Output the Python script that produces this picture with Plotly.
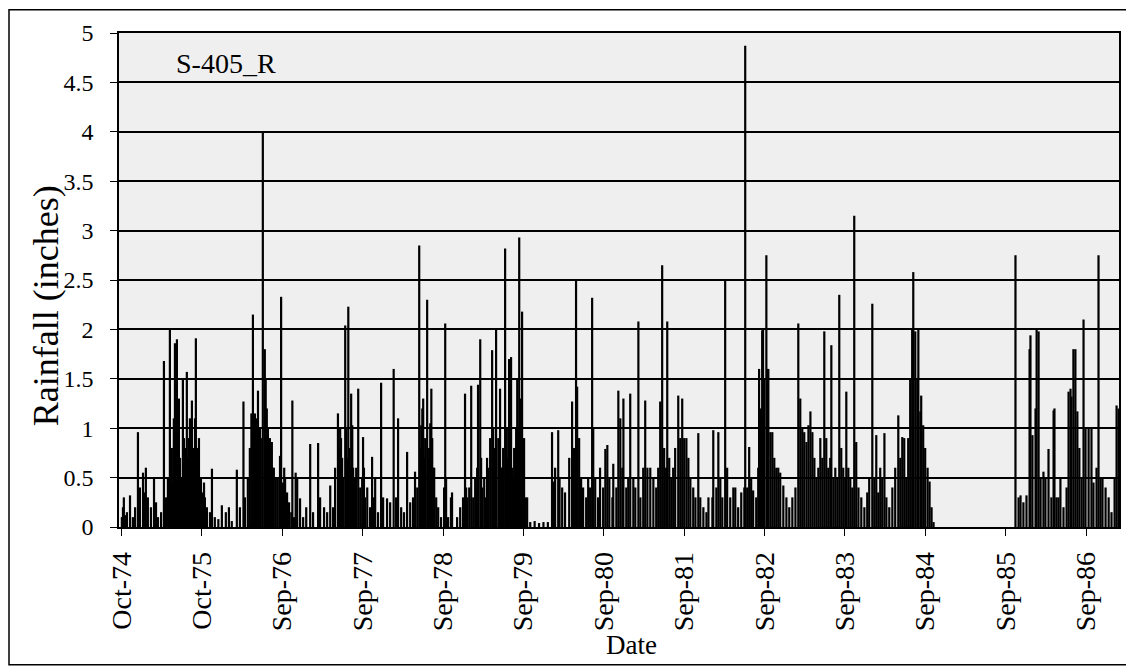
import pandas as pd
import plotly.graph_objects as go

# daily rainfall at S-405_R
# each water year: days after Oct 1 and rainfall (inches)
wy1975_day = [2, 7, 11, 18, 25, 39, 52, 62, 75, 84, 98, 106, 111, 120, 134, 148, 157, 166, 180,
              193, 202, 211, 220, 224, 229, 234, 238, 243, 248, 252, 256, 261, 266, 270, 275, 279,
              284, 288, 293, 297, 301, 306, 311, 316, 320, 325, 330, 334, 338, 343, 347, 352, 356, 361]
wy1975_in = [0.10, 0.20, 0.30, 0.12, 0.15, 0.32, 0.10, 0.20, 0.96, 0.40, 0.55, 0.35, 0.60, 0.30, 0.20,
             0.50, 0.25, 0.10, 0.15, 1.68, 0.30, 0.50, 2.00, 0.60, 0.80, 0.45, 1.10, 1.86, 0.70, 1.90,
             0.90, 1.30, 0.70, 0.50, 0.50, 1.49, 0.90, 0.60, 0.80, 1.57, 0.70, 0.90, 1.10, 0.60, 1.28,
             0.80, 0.60, 1.10, 1.91, 0.80, 0.60, 0.90, 0.40, 0.50]

wy1976_day = [5, 10, 14, 23, 37, 46, 59, 75, 91, 109, 123, 136, 159, 173, 189, 196, 209, 218, 225,
              232, 237, 241, 246, 250, 255, 259, 264, 268, 277, 286, 290, 295, 300, 305, 309, 314,
              318, 323, 327, 336, 345, 355, 360]
wy1976_in = [0.35, 0.45, 0.30, 0.20, 0.15, 0.59, 0.10, 0.08, 0.22, 0.15, 0.20, 0.06, 0.58, 0.20, 1.27,
             0.30, 0.50, 0.80, 1.15, 2.15, 0.90, 1.15, 1.10, 0.80, 1.38, 0.90, 1.00, 0.90, 4.00, 1.80,
             1.50, 1.20, 1.00, 0.80, 0.90, 0.70, 0.86, 0.60, 0.60, 0.50, 0.50, 0.72, 2.33]

wy1977_day = [3, 8, 12, 21, 30, 40, 45, 53, 60, 67, 80, 94, 108, 126, 139, 162, 171, 189, 203, 217,
              230, 239, 252, 257, 262, 266, 271, 276, 285, 290, 294, 299, 303, 308, 312, 317, 321,
              326, 330, 335, 344, 353, 362]
wy1977_in = [0.45, 0.60, 0.50, 0.35, 0.25, 0.15, 1.28, 0.10, 0.55, 0.49, 0.29, 0.10, 0.20, 0.84, 0.15,
             0.85, 0.30, 0.20, 0.15, 0.42, 0.20, 0.60, 1.15, 0.80, 1.00, 0.90, 0.70, 0.50, 2.04, 1.00,
             0.70, 2.23, 0.80, 0.60, 1.35, 1.03, 0.60, 0.50, 0.50, 0.60, 1.40, 0.40, 0.50]

wy1978_day = [1, 5, 10, 20, 33, 42, 51, 56, 69, 83, 92, 110, 124, 140, 151, 160, 174, 187, 201, 215,
              228, 237, 247, 256, 260, 265, 270, 274, 279, 283, 292, 297, 301, 306, 311, 315, 320,
              324, 333, 342, 355]
wy1978_in = [0.91, 0.60, 0.30, 0.40, 0.20, 0.71, 0.30, 0.50, 0.15, 1.46, 0.30, 0.29, 0.25, 1.60, 0.30,
             1.10, 0.20, 0.15, 0.76, 0.25, 0.30, 0.56, 0.40, 2.85, 0.80, 1.03, 1.20, 1.30, 0.70, 0.90,
             2.30, 0.70, 0.80, 1.05, 1.40, 0.90, 0.60, 0.60, 0.30, 0.20, 0.10]

wy1979_day = [4, 9, 13, 22, 35, 40, 63, 77, 90, 99, 104, 109, 118, 127, 136, 145, 149, 154, 158, 168,
              172, 177, 186, 190, 199, 204, 213, 222, 227, 231, 236, 240, 250, 258, 263, 267, 272,
              281, 286, 290, 295, 299, 304, 308, 313, 317, 322, 326, 331, 336, 340, 345, 349, 354,
              358, 363]
wy1979_in = [0.40, 2.06, 0.50, 0.10, 0.30, 0.35, 0.10, 0.20, 0.30, 1.35, 0.40, 0.30, 0.40, 1.43, 0.30,
             0.50, 0.40, 0.60, 1.44, 1.90, 0.70, 0.40, 0.50, 0.30, 0.70, 0.60, 0.90, 1.79, 1.00, 0.80,
             0.60, 2.00, 0.90, 1.40, 0.60, 0.60, 0.80, 2.82, 1.00, 0.70, 1.00, 1.70, 0.90, 1.72, 0.60,
             0.50, 0.80, 0.80, 1.00, 1.50, 1.00, 2.93, 1.30, 1.20, 2.18, 0.60]

wy1980_day = [2, 8, 16, 30, 50, 70, 90, 110, 129, 136, 143, 157, 163, 175, 188, 207, 220, 229, 238,
              243, 252, 261, 270, 284, 293, 302, 311, 316, 325, 338, 347, 361]
wy1980_in = [0.90, 0.30, 0.30, 0.05, 0.06, 0.04, 0.05, 0.05, 0.96, 0.46, 0.60, 0.98, 0.50, 0.40, 0.35,
             0.70, 1.27, 0.80, 2.50, 1.42, 0.90, 0.50, 0.40, 0.30, 0.50, 0.40, 2.32, 1.00, 0.50, 0.30,
             0.60, 0.40]

wy1981_day = [5, 14, 23, 37, 41, 55, 64, 73, 82, 87, 100, 109, 118, 132, 141, 155, 164, 177, 186, 196,
              209, 223, 236, 245, 254, 263, 272, 281, 286, 295, 304, 313, 322, 336, 345, 354, 363]
wy1981_in = [0.79, 0.83, 0.50, 0.30, 0.64, 0.40, 1.38, 1.10, 0.60, 1.30, 0.40, 0.50, 1.35, 0.50, 0.40,
             2.08, 0.30, 0.60, 1.28, 0.60, 0.60, 0.50, 0.40, 0.60, 1.27, 2.65, 0.80, 0.60, 2.08, 0.70,
             0.50, 0.60, 0.80, 1.33, 0.90, 1.30, 0.90]

wy1982_day = [8, 17, 26, 39, 49, 62, 71, 85, 99, 108, 126, 130, 144, 153, 162, 171, 184, 193, 207, 221,
              230, 243, 257, 271, 275, 284, 293, 302, 311, 325, 334, 338, 347, 352, 356, 361]
wy1982_in = [0.90, 0.70, 0.50, 0.40, 0.30, 0.95, 0.30, 0.20, 0.15, 0.30, 0.30, 0.98, 0.40, 0.96, 0.50,
             0.30, 2.50, 0.60, 0.30, 0.40, 0.40, 0.20, 0.35, 0.40, 4.87, 0.40, 0.81, 0.50, 0.37, 0.30,
             0.60, 1.60, 1.20, 1.99, 2.00, 1.50]

wy1983_day = [6, 10, 15, 24, 33, 42, 51, 60, 69, 83, 97, 110, 124, 138, 151, 160, 169, 178, 188, 197,
              206, 215, 224, 233, 242, 251, 260, 269, 278, 287, 296, 301, 310, 319, 328, 337, 346,
              355, 364]
wy1983_in = [2.75, 1.60, 1.60, 0.96, 0.96, 0.70, 0.60, 0.60, 0.55, 0.42, 0.30, 0.20, 0.30, 0.40, 2.06,
             1.30, 1.00, 0.96, 0.86, 1.03, 1.17, 0.96, 0.70, 0.50, 0.60, 0.90, 0.70, 1.98, 0.90, 0.60,
             0.70, 1.84, 0.50, 0.60, 0.50, 2.35, 0.80, 0.60, 0.50]

wy1984_day = [4, 13, 22, 31, 40, 49, 59, 72, 86, 99, 108, 122, 131, 140, 149, 158, 167, 177, 186, 199,
              213, 226, 240, 249, 258, 267, 276, 285, 294, 303, 308, 317, 326, 331, 340, 344, 353, 362]
wy1984_in = [1.37, 0.60, 0.50, 0.40, 3.15, 0.86, 0.40, 0.30, 0.20, 0.35, 0.50, 2.26, 0.50, 0.93, 0.35,
             0.60, 0.50, 0.95, 0.30, 0.20, 0.40, 0.60, 1.13, 0.70, 0.91, 0.90, 0.50, 0.90, 1.50, 2.00,
             2.58, 1.98, 1.50, 2.00, 1.17, 1.33, 1.03, 0.80]

wy1985_day = [7, 16, 25, 34]
wy1985_in = [0.60, 0.46, 0.20, 0.05]

wy1986_day = [41, 55, 64, 77, 91, 105, 109, 118, 132, 137, 146, 155, 168, 177, 191, 204, 214, 218, 227,
              236, 245, 259, 273, 282, 291, 295, 304, 313, 322, 331, 341, 350, 359]
wy1986_in = [2.75, 0.30, 0.32, 0.25, 0.32, 1.80, 1.94, 0.93, 1.20, 2.00, 1.98, 0.50, 0.56, 0.50, 0.79,
             0.30, 1.18, 1.20, 0.30, 0.30, 0.50, 0.20, 0.40, 1.37, 1.40, 1.32, 1.80, 1.80, 1.17, 0.80,
             0.50, 2.10, 1.00]

wy1987_day = [8, 21, 30, 44, 53, 62, 71, 85, 99, 112, 126, 135, 144]
wy1987_in = [1.00, 1.00, 0.45, 0.60, 2.75, 0.50, 0.50, 0.40, 0.30, 0.15, 0.50, 1.23, 1.20]

# x axis ticks (Excel style, every 365 days)
tick_dates = ["1974-10-01", "1975-10-01", "1976-09-30", "1977-09-30", "1978-09-30", "1979-09-30",
              "1980-09-29", "1981-09-29", "1982-09-29", "1983-09-29", "1984-09-28", "1985-09-28",
              "1986-09-28"]
tick_labels = ["Oct-74", "Oct-75", "Sep-76", "Sep-77", "Sep-78", "Sep-79", "Sep-80", "Sep-81",
               "Sep-82", "Sep-83", "Sep-84", "Sep-85", "Sep-86"]
y_ticks = [0, 0.5, 1, 1.5, 2, 2.5, 3, 3.5, 4, 4.5, 5]
y_labels = ["0", "0.5", "1", "1.5", "2", "2.5", "3", "3.5", "4", "4.5", "5"]

seasons = [
    ("1974-10-01", wy1975_day, wy1975_in),
    ("1975-10-01", wy1976_day, wy1976_in),
    ("1976-10-01", wy1977_day, wy1977_in),
    ("1977-10-01", wy1978_day, wy1978_in),
    ("1978-10-01", wy1979_day, wy1979_in),
    ("1979-10-01", wy1980_day, wy1980_in),
    ("1980-10-01", wy1981_day, wy1981_in),
    ("1981-10-01", wy1982_day, wy1982_in),
    ("1982-10-01", wy1983_day, wy1983_in),
    ("1983-10-01", wy1984_day, wy1984_in),
    ("1984-10-01", wy1985_day, wy1985_in),
    ("1985-10-01", wy1986_day, wy1986_in),
    ("1986-10-01", wy1987_day, wy1987_in),
]

dates, rain = [], []
for start, days, vals in seasons:
    d0 = pd.Timestamp(start)
    dates += [d0 + pd.Timedelta(days=d) for d in days]
    rain += vals

serif = "Liberation Serif, Times New Roman, serif"
day_ms = 86400000

fig = go.Figure(
    go.Bar(
        x=dates,
        y=rain,
        width=10 * day_ms,
        marker=dict(color="black", line=dict(width=0)),
        hoverinfo="x+y",
    )
)

# the page body adds an 8px margin, so the figure is 8px smaller than the window
fig.update_layout(
    width=1126,
    height=664,
    margin=dict(l=111, r=15, t=25, b=145),
    paper_bgcolor="white",
    plot_bgcolor="#efefef",
    showlegend=False,
    font=dict(family=serif, color="black"),
)

fig.update_xaxes(
    type="date",
    range=["1974-09-20", "1987-02-24"],
    tickvals=tick_dates,
    ticktext=tick_labels,
    tickangle=-90,
    ticks="outside",
    ticklen=7,
    tickcolor="black",
    tickfont=dict(family=serif, size=28, color="black"),
    ticklabelstandoff=5,
    showgrid=False,
    showline=True,
    linecolor="black",
    linewidth=1.5,
    mirror=True,
)

fig.update_yaxes(
    range=[0, 5],
    tickvals=y_ticks,
    ticktext=y_labels,
    ticks="outside",
    ticklen=7,
    tickcolor="black",
    tickfont=dict(family=serif, size=24, color="black"),
    ticklabelstandoff=12,
    showgrid=True,
    gridcolor="black",
    gridwidth=1.5,
    zeroline=False,
    showline=True,
    linecolor="black",
    linewidth=1.5,
    mirror=True,
)

fig.add_annotation(text="S-405_R", xref="paper", yref="paper", x=0.107, y=0.939,
                   xanchor="center", yanchor="middle", showarrow=False,
                   font=dict(family=serif, size=28, color="black"))
fig.add_annotation(text="Rainfall (inches)", xref="paper", yref="paper", x=-0.073, y=0.447,
                   xanchor="center", yanchor="middle", textangle=-90, showarrow=False,
                   font=dict(family=serif, size=36, color="black"))
fig.add_annotation(text="Date", xref="paper", yref="paper", x=0.512, y=-0.239,
                   xanchor="center", yanchor="middle", showarrow=False,
                   font=dict(family=serif, size=27, color="black"))

# outer frame around the whole chart (kept inside the figure's own canvas)
fig.add_shape(type="rect", xref="paper", yref="paper", x0=-0.110, x1=1.008, y0=-0.279, y1=1.047,
              line=dict(color="black", width=1.5), fillcolor="rgba(0,0,0,0)", layer="below")

fig.write_html("out.html")
